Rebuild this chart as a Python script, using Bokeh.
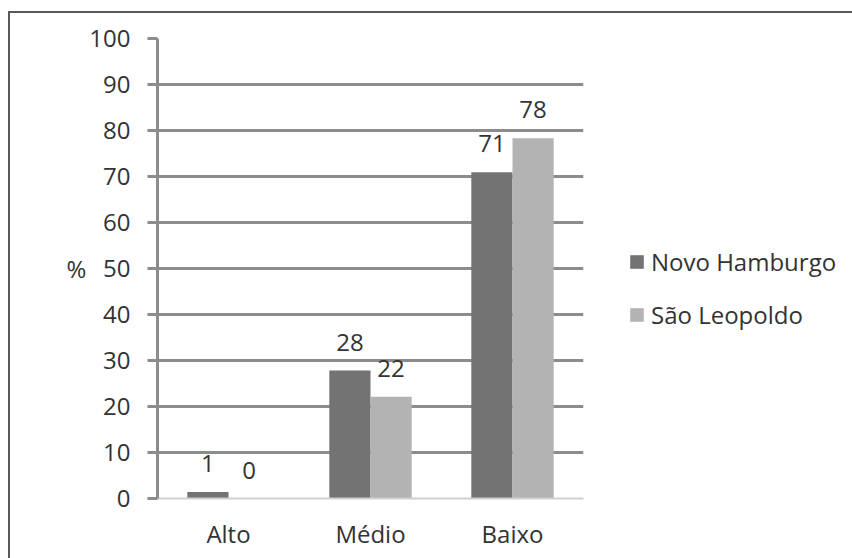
from bokeh.plotting import figure
from bokeh.layouts import column
from bokeh.models import (ColumnDataSource, FactorRange, Range1d, FixedTicker, Legend,
                          LegendItem, LabelSet)
from bokeh.core.properties import value
from bokeh.transform import dodge
from bokeh.embed import file_html
from bokeh.resources import INLINE

categories = ["Alto", "Médio", "Baixo"]
novo_hamburgo = [1.4, 27.8, 70.9]
sao_leopoldo = [0.0, 22.1, 78.3]
nh_labels = ["1", "28", "71"]
sl_labels = ["0", "22", "78"]
y_ticks = [0, 10, 20, 30, 40, 50, 60, 70, 80, 90, 100]

FONT = "Open Sans"
TXT = "#333333"
FS = "24px"

src = ColumnDataSource(dict(cat=categories, nh=novo_hamburgo, sl=sao_leopoldo,
                            nhl=nh_labels, sll=sl_labels))

p = figure(x_range=FactorRange(*categories, range_padding=0, factor_padding=0),
           y_range=Range1d(0, 100),
           frame_width=426, frame_height=460,
           min_border_left=147, min_border_right=269, min_border_top=25, min_border_bottom=60,
           output_backend="svg", toolbar_location=None)
p.outline_line_color = None
p.background_fill_color = "white"
p.border_fill_color = "white"

NH_COL = "#737373"
SL_COL = "#b3b3b3"
W = 0.29
r1 = p.vbar(x=dodge("cat", -W / 2, range=p.x_range), top="nh", width=W, source=src,
            fill_color=NH_COL, line_color=None)
r2 = p.vbar(x=dodge("cat", W / 2, range=p.x_range), top="sl", width=W, source=src,
            fill_color=SL_COL, line_color=None)

lab_style = dict(text_font=value(FONT), text_font_size=value(FS), text_color=TXT,
                 text_align="center", text_baseline="alphabetic", y_offset=20, source=src)
p.add_layout(LabelSet(x=dodge("cat", -W / 2, range=p.x_range), y="nh", text="nhl", **lab_style))
p.add_layout(LabelSet(x=dodge("cat", W / 2, range=p.x_range), y="sl", text="sll", **lab_style))

# grid
p.xgrid.grid_line_color = None
p.ygrid.ticker = FixedTicker(ticks=y_ticks[1:])
p.ygrid.grid_line_color = "#8c8c8c"
p.ygrid.grid_line_width = 3

# y axis
p.yaxis.ticker = FixedTicker(ticks=y_ticks)
p.yaxis.axis_line_color = "#8c8c8c"
p.yaxis.axis_line_width = 3
p.yaxis.major_tick_line_color = "#8c8c8c"
p.yaxis.major_tick_line_width = 3
p.yaxis.major_tick_out = 10
p.yaxis.major_tick_in = 0
p.yaxis.minor_tick_line_color = None
p.yaxis.major_label_standoff = 17
p.yaxis.major_label_text_font = FONT
p.yaxis.major_label_text_font_size = FS
p.yaxis.major_label_text_color = TXT
p.yaxis.axis_label = "%"
p.yaxis.axis_label_orientation = "horizontal"
p.yaxis.axis_label_text_font = FONT
p.yaxis.axis_label_text_font_size = FS
p.yaxis.axis_label_text_font_style = "normal"
p.yaxis.axis_label_text_color = TXT
p.yaxis.axis_label_standoff = 0

# x axis
p.xaxis.axis_line_color = "#d0d0d0"
p.xaxis.axis_line_width = 2
p.xaxis.major_tick_line_color = None
p.xaxis.minor_tick_line_color = None
p.xaxis.major_label_standoff = 12
p.xaxis.major_label_text_font = FONT
p.xaxis.major_label_text_font_size = FS
p.xaxis.major_label_text_color = TXT

legend = Legend(items=[LegendItem(label="Novo Hamburgo", renderers=[r1]),
                       LegendItem(label="São Leopoldo", renderers=[r2])],
                location=(45, 167), orientation="vertical",
                glyph_width=17, glyph_height=17, label_standoff=6, spacing=20,
                padding=0, margin=0, border_line_color=None, background_fill_alpha=0,
                label_text_font=FONT, label_text_font_size=FS, label_text_color=TXT)
p.add_layout(legend, "right")

page = column(p, margin=(11, 0, 0, 8),
              styles={"border-left": "2px solid #595959", "border-top": "2px solid #595959"})

open("out.html", "w").write(file_html(page, INLINE))
